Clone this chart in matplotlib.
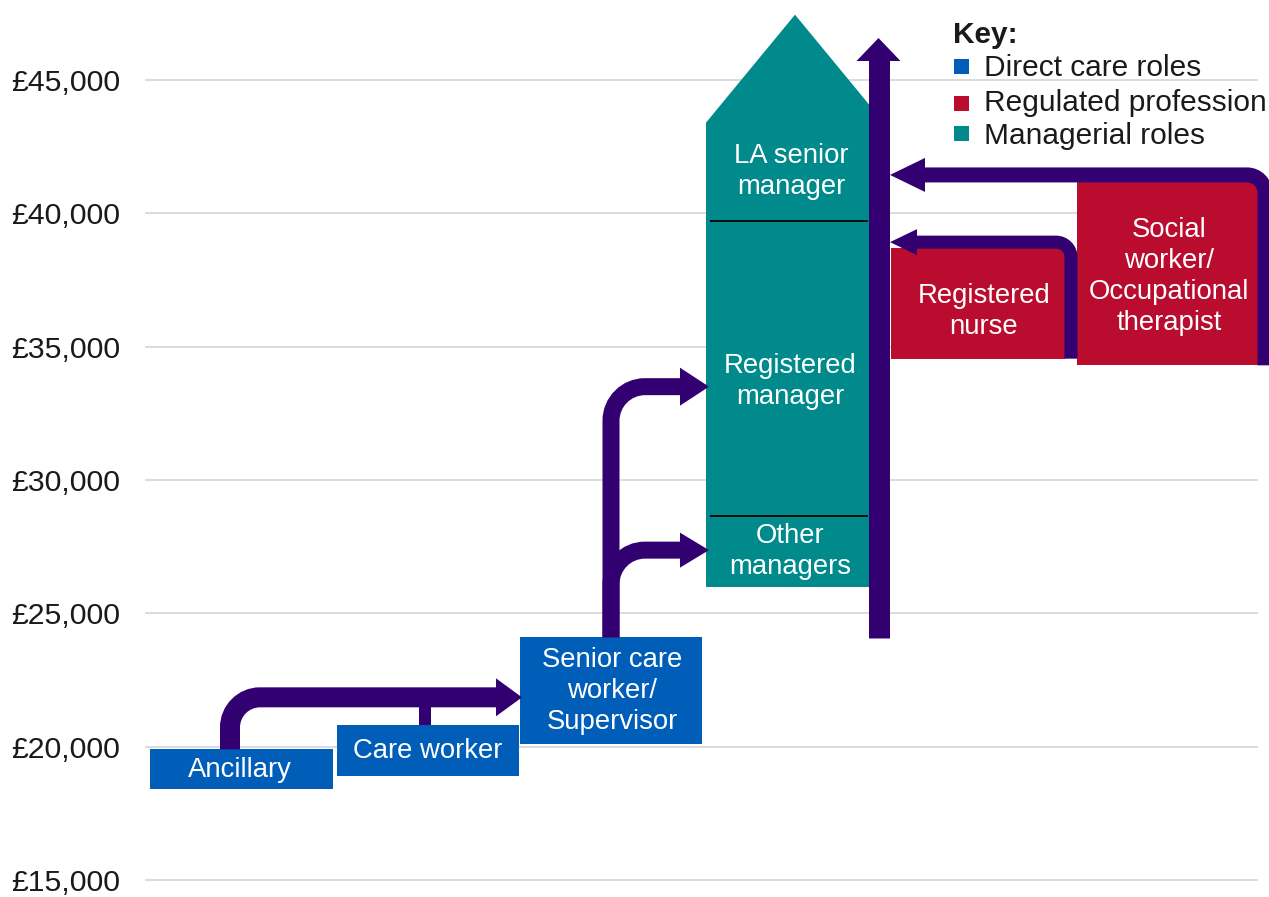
import matplotlib
matplotlib.use("Agg")
import matplotlib.pyplot as plt
from matplotlib.path import Path
from matplotlib.patches import PathPatch, Polygon, Rectangle

# ---------------- data ----------------
roles = ["Ancillary", "Care worker", "Senior care\nworker/\nSupervisor",
         "Other\nmanagers", "Registered\nmanager", "LA senior\nmanager",
         "Registered\nnurse", "Social\nworker/\nOccupational\ntherapist"]
role_group = ["Direct care roles", "Direct care roles", "Direct care roles",
              "Managerial roles", "Managerial roles", "Managerial roles",
              "Regulated profession", "Regulated profession"]
salary_low = [18400, 18900, 20100, 26000, 28650, 39700, 34550, 34300]
salary_high = [19900, 20800, 24100, 28650, 39700, 43400, 38700, 41200]
la_senior_roof_peak = 47450

groups = ["Direct care roles", "Regulated profession", "Managerial roles"]
group_colors = ["#005EB8", "#BA0C2F", "#008A8C"]

ytick_values = [15000, 20000, 25000, 30000, 35000, 40000, 45000]
ytick_labels = ["£15,000", "£20,000", "£25,000", "£30,000", "£35,000", "£40,000", "£45,000"]

# progression arrow levels (salary at which each arrow runs)
level_ancillary_to_senior = 21850
level_senior_to_registered_mgr = 33500
level_senior_to_other_mgr = 27370
main_arrow_start = 24075
main_arrow_tip = 46575
level_social_to_main = 41440
level_nurse_to_main = 38920

# ---------------- layout ----------------
W, H, DPI = 1269, 897, 100
PURPLE = "#330072"
VPP = 37.5                # salary units per pixel (vertical)
YTOP = 48000
YBOT = YTOP - H * VPP

# horizontal extents (pixels) of each box
box_x = [(150, 333), (337, 519), (520, 702), (706, 884), (706, 884), (706, 884),
         (891, 1065), (1077, 1259)]
label_x = [240, 428, 612, 790, 790, 791, 984, 1169]
label_dy_px = [1, 0, 0, 0, 13, 0, 8, 3]   # downwards offset of label in px

plt.rcParams["font.family"] = ["Liberation Sans", "DejaVu Sans"]

fig = plt.figure(figsize=(W / DPI, H / DPI), dpi=DPI)
ax = fig.add_axes([145 / W, 0, (W - 145) / W, 1])
ax.set_xlim(145, W)
ax.set_ylim(YBOT, YTOP)
for s in ax.spines.values():
    s.set_visible(False)
ax.set_xticks([])
ax.set_yticks(ytick_values)
ax.set_yticklabels(ytick_labels, fontsize=21.8, color="#1a1a1a")
ax.tick_params(axis="y", length=0, pad=18)

# gridlines
ax.hlines(ytick_values, 145, 1258, color="#d9d9d9", lw=1.3, zorder=0)

# ---------------- boxes ----------------
for i, role in enumerate(roles):
    color = group_colors[groups.index(role_group[i])]
    x0, x1 = box_x[i]
    lo, hi = salary_low[i], salary_high[i]
    if role.startswith("LA senior"):
        xc = (x0 + x1) / 2
        poly = Polygon([(x0, lo), (x1, lo), (x1, hi), (xc, la_senior_roof_peak), (x0, hi)],
                       closed=True, facecolor=color, edgecolor="none", zorder=2)
        ax.add_patch(poly)
    else:
        ax.add_patch(Rectangle((x0, lo), x1 - x0, hi - lo, facecolor=color,
                               edgecolor="none", zorder=2))
    ymid = (lo + hi) / 2 - label_dy_px[i] * VPP
    ax.text(label_x[i], ymid, role, ha="center", va="center", fontsize=19.8,
            color="white", linespacing=1.25, zorder=5)

# dividers inside managerial column
for i, role in enumerate(roles):
    if role.startswith("Registered\nmanager") or role.startswith("LA senior"):
        ax.hlines(salary_low[i], 710, 868, color="black", lw=1.3, zorder=3)


# ---------------- arrows ----------------
def head(xt, yt, length, width, direction):
    if direction == "right":
        pts = [(xt, yt), (xt - length, yt + width / 2 * VPP), (xt - length, yt - width / 2 * VPP)]
    elif direction == "left":
        pts = [(xt, yt), (xt + length, yt + width / 2 * VPP), (xt + length, yt - width / 2 * VPP)]
    else:  # up
        pts = [(xt, yt), (xt - width / 2, yt - length * VPP), (xt + width / 2, yt - length * VPP)]
    ax.add_patch(Polygon(pts, closed=True, facecolor=PURPLE, edgecolor="none", zorder=4))


def elbow(x0, y0, yc, xt, r_px, lw_px, hl, hw):
    sx = 1 if xt > x0 else -1
    ry = r_px * VPP
    xend = xt - sx * (hl - 1)
    k = 0.5523
    verts = [(x0, y0), (x0, yc - ry), (x0, yc - ry * (1 - k)), (x0 + sx * r_px * (1 - k), yc),
             (x0 + sx * r_px, yc), (xend, yc)]
    codes = [Path.MOVETO, Path.LINETO, Path.CURVE4, Path.CURVE4, Path.CURVE4, Path.LINETO]
    ax.add_patch(PathPatch(Path(verts, codes), fill=False, edgecolor=PURPLE,
                           lw=lw_px * 0.72, capstyle="butt", joinstyle="miter", zorder=4))
    head(xt, yc, hl, hw, "right" if sx > 0 else "left")


# Ancillary -> Senior care worker
elbow(230, salary_high[0], level_ancillary_to_senior, 522, 30, 20, 26, 38)
# Care worker stub
ax.vlines(425, salary_high[1], level_ancillary_to_senior, color=PURPLE, lw=12 * 0.72, zorder=4)
# Senior -> Registered manager / Other managers
elbow(611, salary_high[2], level_senior_to_registered_mgr, 709, 34, 17, 29, 38)
elbow(611, salary_high[2], level_senior_to_other_mgr, 709, 34, 17, 29, 35)
# main vertical arrow
ax.vlines(878.5, main_arrow_start, main_arrow_tip - 21 * VPP, color=PURPLE, lw=21 * 0.72, zorder=4)
head(878.5, main_arrow_tip, 23, 44, "up")
# Social worker -> main
elbow(1265, salary_low[7], level_social_to_main, 890, 18, 15, 35, 34)
# Nurse -> main
elbow(1071, salary_low[6], level_nurse_to_main, 890, 15, 13, 27, 26)

# ---------------- key ----------------
def fx(x):
    return x / W


def fy(y):
    return 1 - y / H


fig.text(fx(953), fy(43), "Key:", fontsize=21.5, fontweight="bold", color="#1a1a1a", va="baseline")
key_baselines = [76, 111, 144]
key_square_centers = [66.5, 103.5, 134]
for g, c, yb, ys in zip(groups, group_colors, key_baselines, key_square_centers):
    fig.patches.append(Rectangle((fx(954), fy(ys + 7.5)), 15 / W, 15 / H, facecolor=c,
                                 edgecolor="none", transform=fig.transFigure, figure=fig))
    fig.text(fx(984), fy(yb), g, fontsize=21.5, color="#1a1a1a", va="baseline")

fig.savefig("out.png", dpi=DPI)
